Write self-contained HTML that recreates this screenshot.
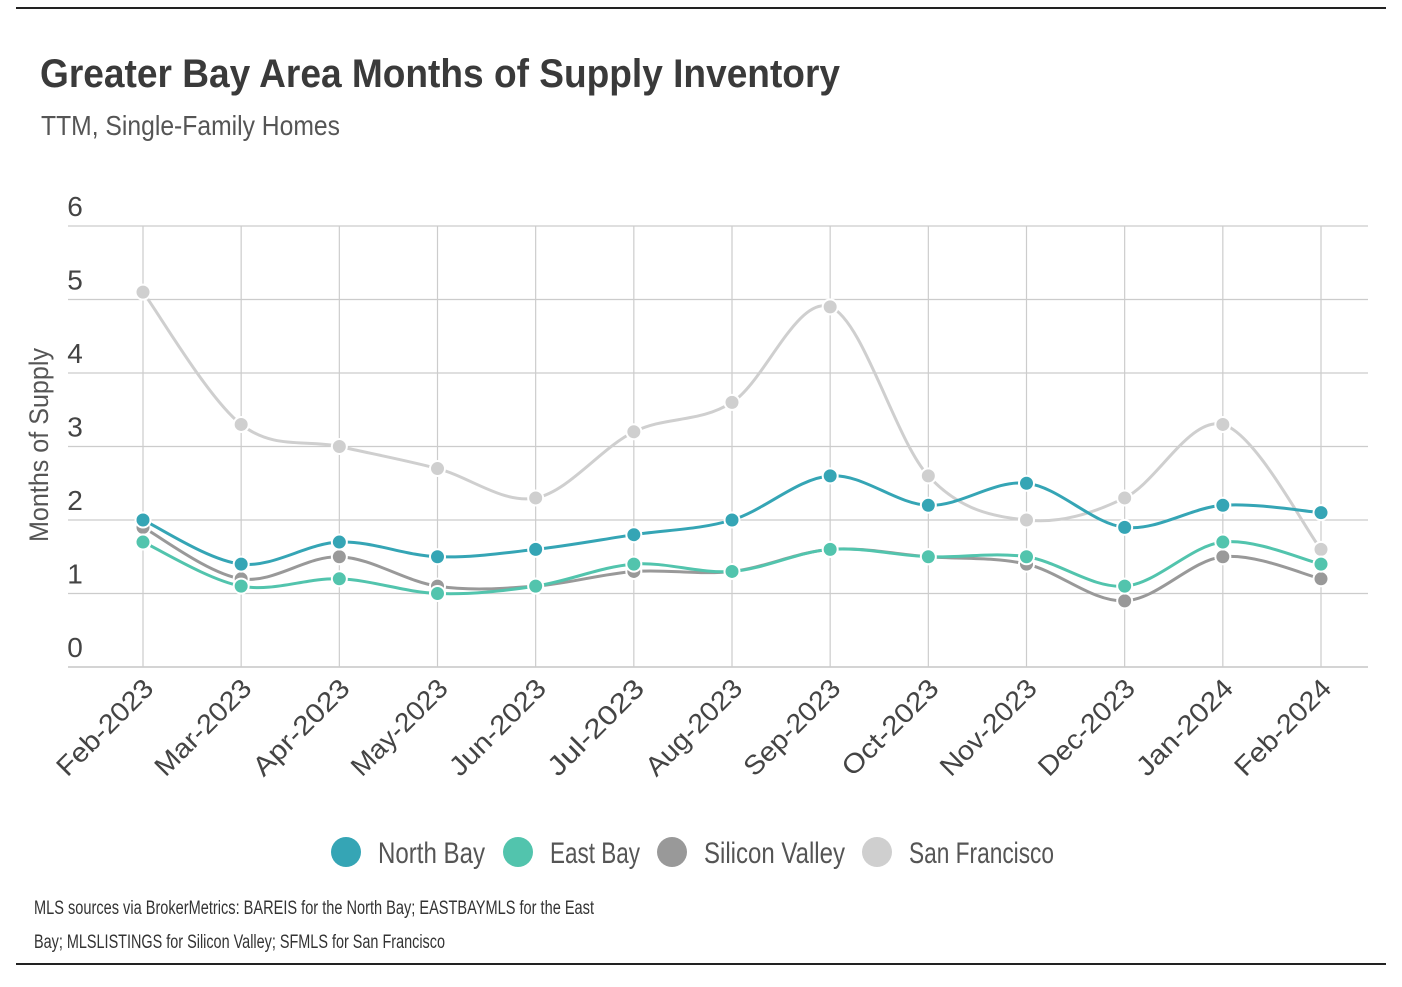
<!DOCTYPE html>
<html><head><meta charset="utf-8"><style>
html,body{margin:0;padding:0;background:#fff;}
body{width:1402px;height:982px;overflow:hidden;font-family:"Liberation Sans",sans-serif;}
</style></head><body>
<svg id="chart" width="1402" height="982" xmlns="http://www.w3.org/2000/svg" font-family="'Liberation Sans',sans-serif">
<line x1="16" y1="8" x2="1386" y2="8" stroke="#222" stroke-width="2"/>
<line x1="16" y1="964" x2="1386" y2="964" stroke="#222" stroke-width="2"/>
<text x="40" y="87" font-size="40" font-weight="bold" fill="#3a3a3a" textLength="800" lengthAdjust="spacingAndGlyphs">Greater Bay Area Months of Supply Inventory</text>
<text x="41" y="135" font-size="28" fill="#555" textLength="299" lengthAdjust="spacingAndGlyphs">TTM, Single-Family Homes</text>
<text transform="translate(48,445) rotate(-90)" text-anchor="middle" font-size="27" fill="#555" textLength="194" lengthAdjust="spacingAndGlyphs">Months of Supply</text>
<g id="grid"></g><g id="series"></g><g id="xlabels"></g>
<g font-size="30" fill="#555">
<circle cx="346" cy="852" r="15" fill="#35a5b5"/>
<text x="378" y="863" textLength="107" lengthAdjust="spacingAndGlyphs">North Bay</text>
<circle cx="518" cy="852" r="15" fill="#52c4ad"/>
<text x="550" y="863" textLength="90" lengthAdjust="spacingAndGlyphs">East Bay</text>
<circle cx="672" cy="852" r="15" fill="#999"/>
<text x="704" y="863" textLength="141" lengthAdjust="spacingAndGlyphs">Silicon Valley</text>
<circle cx="877" cy="852" r="15" fill="#cfcfcf"/>
<text x="909" y="863" textLength="145" lengthAdjust="spacingAndGlyphs">San Francisco</text>
</g>
<text x="34" y="914" font-size="19" fill="#333" textLength="560" lengthAdjust="spacingAndGlyphs">MLS sources via BrokerMetrics: BAREIS for the North Bay; EASTBAYMLS for the East</text>
<text x="34" y="948" font-size="19" fill="#333" textLength="411" lengthAdjust="spacingAndGlyphs">Bay; MLSLISTINGS for Silicon Valley; SFMLS for San Francisco</text>
</svg>
<script>
const categories=["Feb-2023","Mar-2023","Apr-2023","May-2023","Jun-2023","Jul-2023","Aug-2023","Sep-2023","Oct-2023","Nov-2023","Dec-2023","Jan-2024","Feb-2024"];
const yTicks=[0,1,2,3,4,5,6];
const sanFrancisco=[5.1,3.3,3.0,2.7,2.3,3.2,3.6,4.9,2.6,2.0,2.3,3.3,1.6];
const siliconValley=[1.9,1.2,1.5,1.1,1.1,1.3,1.3,1.6,1.5,1.4,0.9,1.5,1.2];
const eastBay=[1.7,1.1,1.2,1.0,1.1,1.4,1.3,1.6,1.5,1.5,1.1,1.7,1.4];
const northBay=[2.0,1.4,1.7,1.5,1.6,1.8,2.0,2.6,2.2,2.5,1.9,2.2,2.1];
const NS="http://www.w3.org/2000/svg";
const x=i=>143+i*(1321-143)/(categories.length-1);
const y=v=>667-v*(667-226)/6;
function mk(t,a,p){const e=document.createElementNS(NS,t);for(const k in a)e.setAttribute(k,a[k]);p.appendChild(e);return e;}
const grid=document.getElementById('grid');
yTicks.forEach(t=>{
  const l=mk('line',{x1:68,x2:1368,y1:y(t),y2:y(t),stroke:t===0?'#bbb':'#ccc','stroke-width':1.2},grid);
  
  
  const tx=mk('text',{x:75,y:y(t)-10,'text-anchor':'middle','font-size':28,fill:'#444'},grid);
  tx.textContent=t;
  
  
});
const xl=document.getElementById('xlabels');
categories.forEach((c,i)=>{
  const l=mk('line',{x1:x(i),x2:x(i),y1:226,y2:667,stroke:'#ccc','stroke-width':1.2},grid);
  
  
  const t=mk('text',{transform:`translate(${x(i)+12},${690}) rotate(-45)`,'text-anchor':'end','font-size':27,fill:'#444',textLength:124,lengthAdjust:'spacingAndGlyphs'},xl);
  t.textContent=c;
  
  
});
function path(vals){
  const p=vals.map((v,i)=>[x(i),y(v)]);let d=`M${p[0][0]},${p[0][1]}`;
  for(let i=0;i<p.length-1;i++){
    const p0=p[i-1]||p[i],p1=p[i],p2=p[i+1],p3=p[i+2]||p2,k=6;
    d+=` C${p1[0]+(p2[0]-p0[0])/k},${p1[1]+(p2[1]-p0[1])/k} ${p2[0]-(p3[0]-p1[0])/k},${p2[1]-(p3[1]-p1[1])/k} ${p2[0]},${p2[1]}`;
  }
  return d;
}
const sg=document.getElementById('series');
[[sanFrancisco,'#cfcfcf','san-francisco'],[siliconValley,'#999','silicon-valley'],[eastBay,'#52c4ad','east-bay'],[northBay,'#35a5b5','north-bay']].forEach(([vals,col,name])=>{
  const g=mk('g',{},sg);
  
  
  const pa=mk('path',{d:path(vals),fill:'none',stroke:col,'stroke-width':3},g);
  
  
  vals.forEach((v,i)=>{
    const c=mk('circle',{cx:x(i),cy:y(v),r:7.5,fill:col,stroke:'#fff','stroke-width':2},g);
    
    
  });
});
</script>
</body></html>
